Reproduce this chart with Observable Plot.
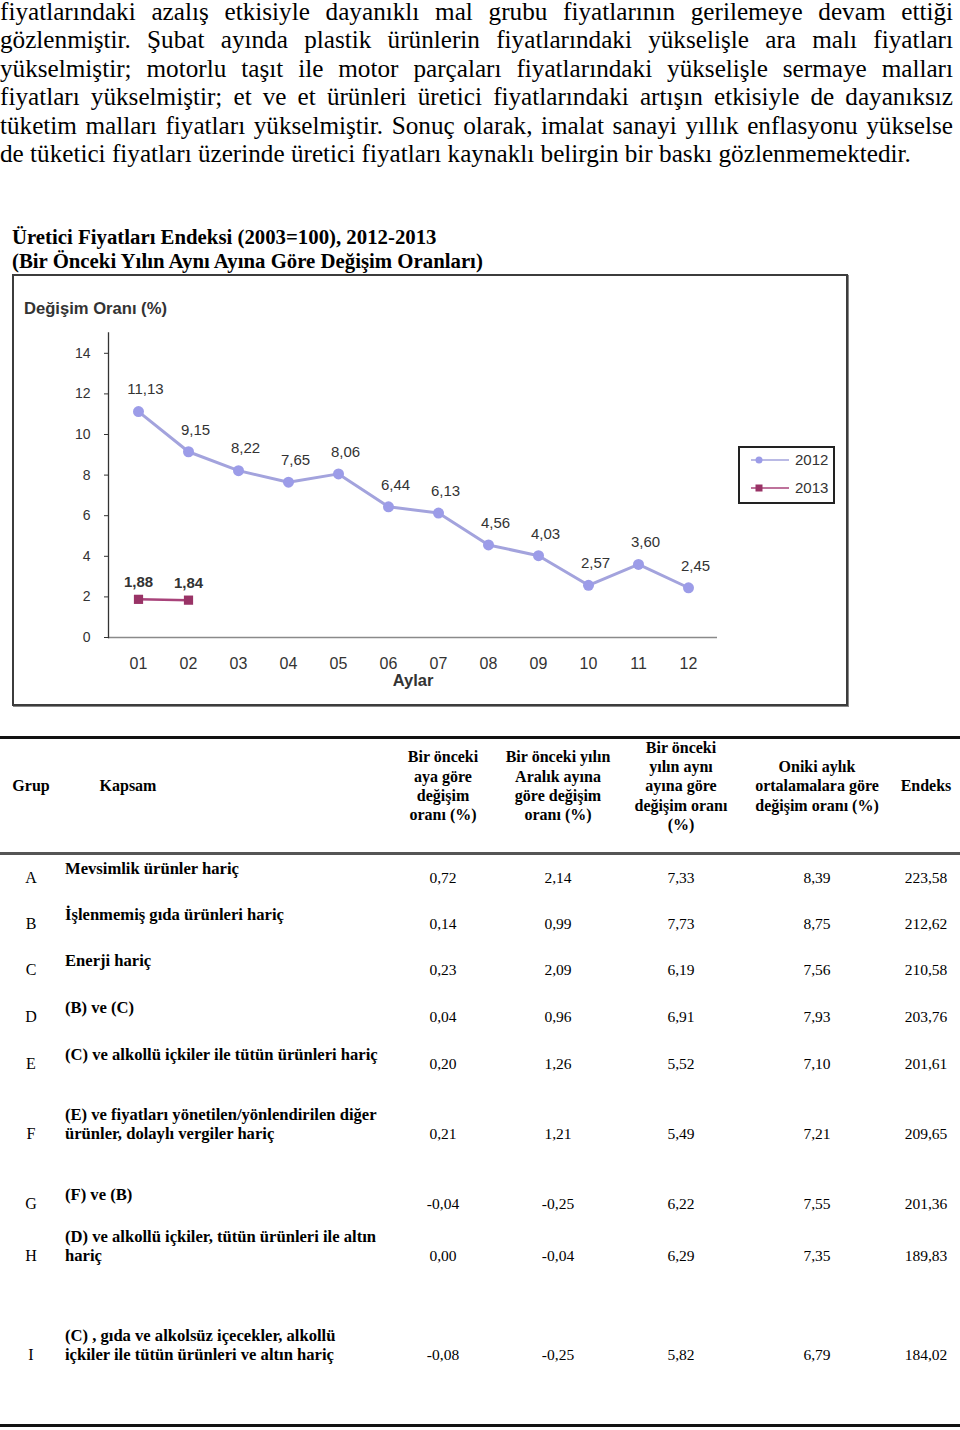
<!DOCTYPE html>
<html><head><meta charset="utf-8">
<script src="https://cdn.jsdelivr.net/npm/d3@7"></script>
<script src="https://cdn.jsdelivr.net/npm/@observablehq/plot@0.6"></script>
<style>
html,body{margin:0;padding:0;background:#fff;}
body{width:960px;height:1430px;position:relative;overflow:hidden;font-family:"Liberation Serif","Times New Roman",serif;color:#000;}
.pline{position:absolute;left:0;width:953px;font-size:25.2px;line-height:28px;text-align:justify;text-align-last:justify;white-space:normal;}
.pline.last{text-align-last:left;}
.ttl{position:absolute;left:12px;font-size:20.8px;font-weight:bold;line-height:24px;white-space:nowrap;}
.hdr{position:absolute;font-weight:bold;font-size:16px;line-height:19.3px;text-align:center;white-space:nowrap;transform:translateX(-50%);}
.cell{position:absolute;font-size:15.5px;line-height:20px;white-space:nowrap;transform:translateX(-50%);}
.kap{position:absolute;left:65px;font-weight:bold;font-size:16.6px;line-height:19.5px;white-space:nowrap;}
.hr{position:absolute;left:0;width:960px;}
#frame{position:absolute;left:12px;top:274px;width:836px;height:432px;border:2px solid #3c3c3c;box-sizing:border-box;box-shadow:1px 1px 0 #888;}
#chart{position:absolute;left:13px;top:275px;}
#ctitle{position:absolute;left:24px;top:299px;font-family:"Liberation Sans",Arial,sans-serif;font-weight:bold;font-size:16.6px;color:#333;white-space:nowrap;}
#legend{position:absolute;left:738px;top:446px;width:97px;height:58px;border:2px solid #222;box-sizing:border-box;font-family:"Liberation Sans",Arial,sans-serif;font-size:15px;color:#333;}
</style></head>
<body>
<div id="page"></div>
<script>
// ---------- DATA ----------
const paragraphLines = [
  "fiyatlarındaki azalış etkisiyle dayanıklı mal grubu fiyatlarının gerilemeye devam ettiği",
  "gözlenmiştir. Şubat ayında plastik ürünlerin fiyatlarındaki yükselişle ara malı fiyatları",
  "yükselmiştir; motorlu taşıt ile motor parçaları fiyatlarındaki yükselişle sermaye malları",
  "fiyatları yükselmiştir; et ve et ürünleri üretici fiyatlarındaki artışın etkisiyle de dayanıksız",
  "tüketim malları fiyatları yükselmiştir. Sonuç olarak, imalat sanayi yıllık enflasyonu yükselse",
  "de tüketici fiyatları üzerinde üretici fiyatları kaynaklı belirgin bir baskı gözlenmemektedir."
];
const chartTitleLines = [
  "Üretici Fiyatları Endeksi (2003=100), 2012-2013",
  "(Bir Önceki Yılın Aynı Ayına Göre Değişim Oranları)"
];
const yAxisTitle = "Değişim Oranı (%)";
const xAxisTitle = "Aylar";
const months = ["01","02","03","04","05","06","07","08","09","10","11","12"];
const values2012 = [11.13, 9.15, 8.22, 7.65, 8.06, 6.44, 6.13, 4.56, 4.03, 2.57, 3.60, 2.45];
const months2013 = ["01","02"];
const values2013 = [1.88, 1.84];
const yTicks = [0, 2, 4, 6, 8, 10, 12, 14];
const seriesNames = ["2012", "2013"];

const tableHeaders = [
  ["Grup"],
  ["Kapsam"],
  ["Bir önceki","aya göre","değişim","oranı (%)"],
  ["Bir önceki yılın","Aralık ayına","göre değişim","oranı (%)"],
  ["Bir önceki","yılın aynı","ayına göre","değişim oranı","(%)"],
  ["Oniki aylık","ortalamalara göre","değişim oranı (%)"],
  ["Endeks"]
];
const groups = ["A","B","C","D","E","F","G","H","I"];
const kapsam = [
  ["Mevsimlik ürünler hariç"],
  ["İşlenmemiş gıda ürünleri hariç"],
  ["Enerji hariç"],
  ["(B) ve (C)"],
  ["(C) ve alkollü içkiler ile tütün ürünleri hariç"],
  ["(E) ve fiyatları yönetilen/yönlendirilen diğer","ürünler, dolaylı vergiler hariç"],
  ["(F) ve (B)"],
  ["(D) ve alkollü içkiler, tütün ürünleri ile altın","hariç"],
  ["(C) , gıda ve alkolsüz içecekler, alkollü","içkiler ile tütün ürünleri ve altın hariç"]
];
const colMonthly   = ["0,72","0,14","0,23","0,04","0,20","0,21","-0,04","0,00","-0,08"];
const colDecember  = ["2,14","0,99","2,09","0,96","1,26","1,21","-0,25","-0,04","-0,25"];
const colYearly    = ["7,33","7,73","6,19","6,91","5,52","5,49","6,22","6,29","5,82"];
const colTwelve    = ["8,39","8,75","7,56","7,93","7,10","7,21","7,55","7,35","6,79"];
const colIndex     = ["223,58","212,62","210,58","203,76","201,61","209,65","201,36","189,83","184,02"];

// ---------- LAYOUT ----------
const page = document.getElementById("page");
function add(cls, html, style){
  const d = document.createElement("div");
  d.className = cls; d.innerHTML = html;
  Object.assign(d.style, style || {});
  page.appendChild(d); return d;
}
const pTop = -2, pStep = 28.4;
paragraphLines.forEach((t,i)=>{
  add("pline" + (i === paragraphLines.length-1 ? " last" : ""), t, {top:(pTop + i*pStep)+"px"});
});
chartTitleLines.forEach((t,i)=> add("ttl", t, {top:(225 + i*24)+"px"}));

add("", "", {}).id = "frame";
add("", yAxisTitle).id = "ctitle";

const d2012 = months.map((m,i)=>({m, v: values2012[i]}));
const d2013 = months2013.map((m,i)=>({m, v: values2013[i]}));
const fmt = d => d.v.toFixed(2).replace(".", ",");
const c2012 = "#a3a3dd", p2012 = "#9c9ce8", c2013 = "#a8437a", p2013 = "#993366";

const chart = Plot.plot({
  width: 834, height: 430,
  marginLeft: 95, marginRight: 130, marginTop: 57.5, marginBottom: 68,
  style: {fontFamily: "'Liberation Sans', Arial, sans-serif", background: "transparent", overflow: "visible", color: "#333"},
  x: {type: "point", domain: months, padding: 0.5, label: null},
  y: {domain: [0, 15], label: null},
  marks: [
    Plot.ruleY([0], {stroke: "#8a8a8a", strokeWidth: 1.5}),
    Plot.frame({anchor: "left", stroke: "#333", strokeWidth: 1.3}),
    Plot.axisY({ticks: yTicks, tickSize: 4, tickPadding: 14, fontSize: 14, label: null, stroke: "#333"}),
    Plot.axisX({tickSize: 0, tickPadding: 20, fontSize: 16, label: null}),
    Plot.line(d2012, {x: "m", y: "v", stroke: c2012, strokeWidth: 3}),
    Plot.dot(d2012, {x: "m", y: "v", r: 5.5, fill: p2012}),
    Plot.line(d2013, {x: "m", y: "v", stroke: c2013, strokeWidth: 2.5}),
    Plot.dot(d2013, {x: "m", y: "v", symbol: "square", r: 5.2, fill: p2013}),
    Plot.text(d2012, {x: "m", y: "v", text: fmt, dx: 7, dy: -22, fontSize: 15, fill: "#333"}),
    Plot.text(d2013, {x: "m", y: "v", text: fmt, dx: 0, dy: -17, fontSize: 15, fontWeight: "bold", fill: "#333"}),
    Plot.text([xAxisTitle], {frameAnchor: "bottom", dy: 48, fontSize: 16.5, fontWeight: "bold", fill: "#333"})
  ]
});
chart.id = "chart";
page.appendChild(chart);

const leg = add("", "", {}); leg.id = "legend";
const legendItems = [
  {name: seriesNames[0], line: c2012, fill: p2012, sym: "circle"},
  {name: seriesNames[1], line: c2013, fill: p2013, sym: "square"}
];
legendItems.forEach((it,i)=>{
  const y = 12 + i*28;
  const mk = it.sym === "circle"
    ? `<circle cx="19" cy="${y}" r="3.5" fill="${it.fill}"/>`
    : `<rect x="15.5" y="${y-3.5}" width="7" height="7" fill="${it.fill}"/>`;
  leg.insertAdjacentHTML("beforeend",
    `<svg style="position:absolute;left:0;top:0" width="93" height="54"><line x1="11" x2="49" y1="${y}" y2="${y}" stroke="${it.line}" stroke-width="1.6"/>${mk}</svg>` +
    `<div style="position:absolute;left:55px;top:${y-9}px;line-height:18px">${it.name}</div>`);
});

add("hr", "", {top:"736px", height:"3px", background:"#111"});
add("hr", "", {top:"852px", height:"3px", background:"#555"});
add("hr", "", {top:"1424px", height:"3px", background:"#111"});

const hdrX = [31, 128, 443, 558, 681, 817, 926];
const lh = 19.3, hdrMid = 786;
tableHeaders.forEach((lines,i)=>{
  const top = hdrMid - lines.length*lh/2;
  add("hdr", lines.join("<br>"), {top: top+"px", left: hdrX[i]+"px"});
});

const rowY = [878, 924, 970, 1017, 1064, 1134, 1204, 1256, 1355];
const cols = [colMonthly, colDecember, colYearly, colTwelve, colIndex];
const colX = [443, 558, 681, 817, 926];
groups.forEach((g,i)=>{
  const y = rowY[i];
  add("cell", g, {top:(y-10)+"px", left:"31px", fontSize:"16px"});
  cols.forEach((c,j)=> add("cell", c[i], {top:(y-10)+"px", left: colX[j]+"px"}));
  const k = kapsam[i];
  const lastCenter = k.length === 1 ? y - 9.5 : y;
  const top = lastCenter - 9.75 - (k.length-1)*19.5;
  add("kap", k.join("<br>"), {top: top+"px"});
});
</script>
</body></html>
